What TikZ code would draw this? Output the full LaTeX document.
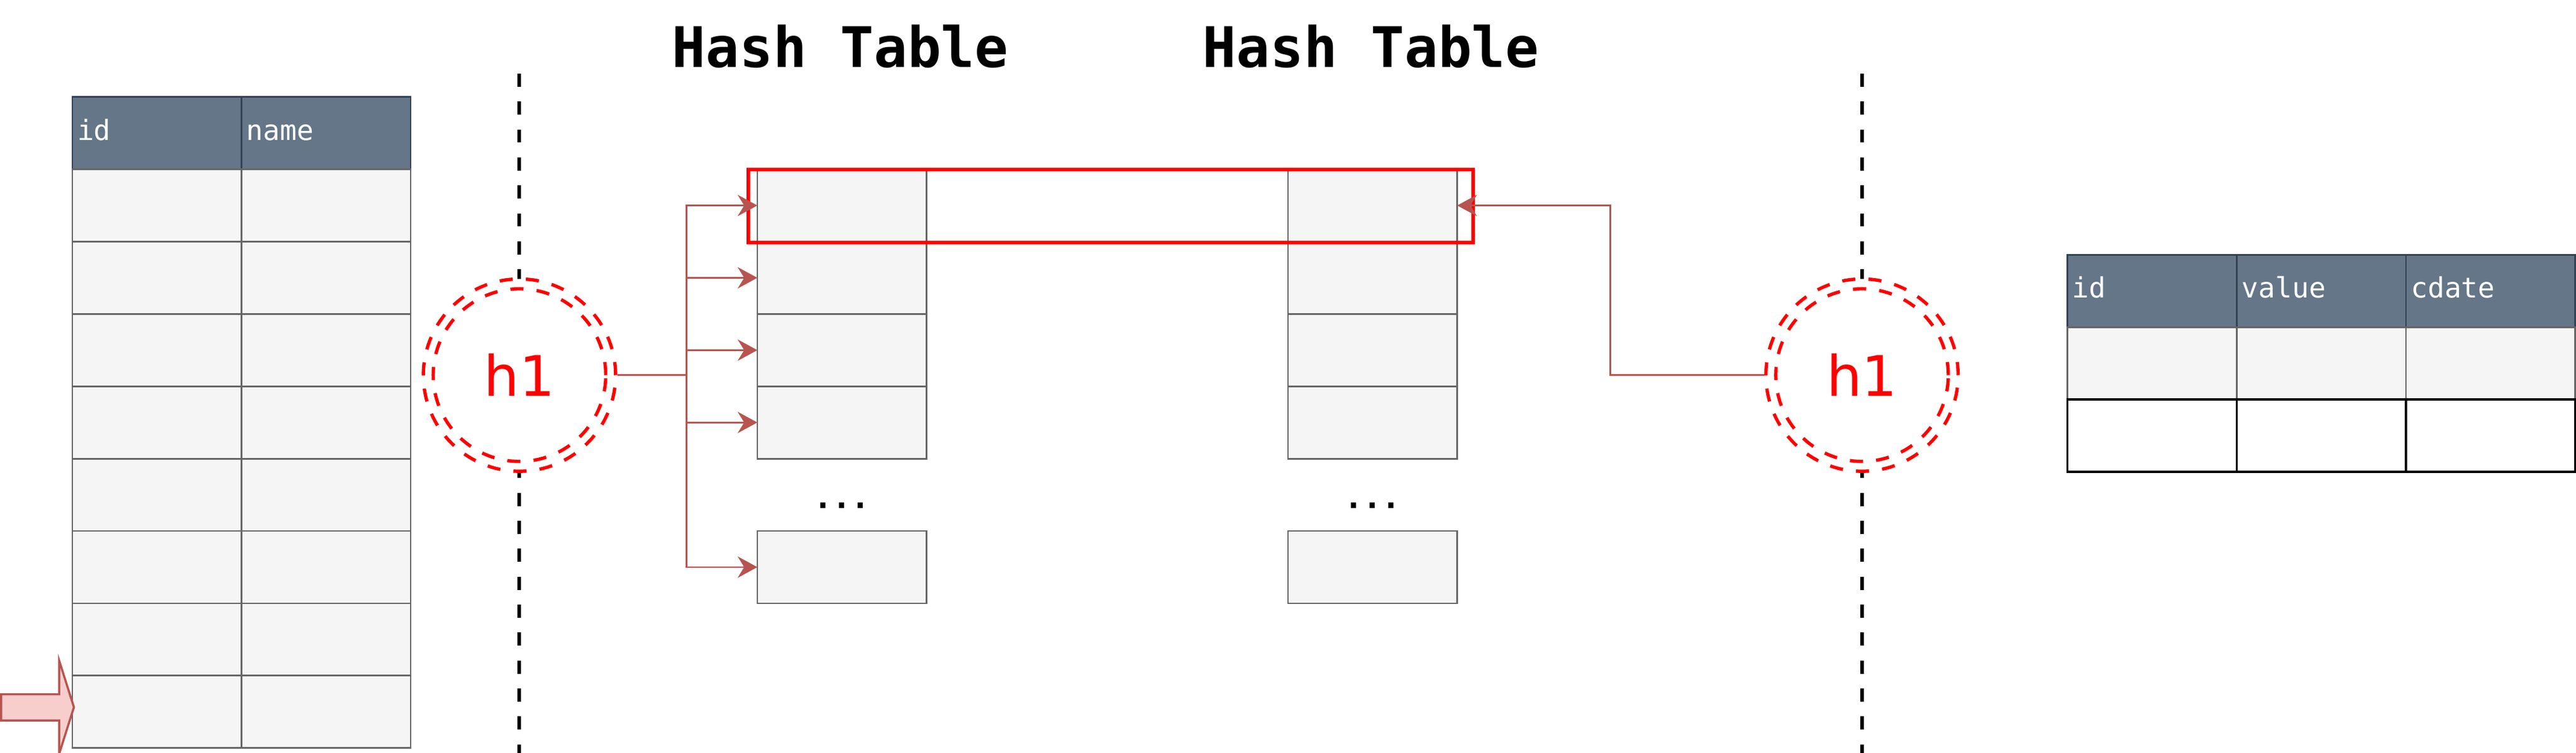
\documentclass[tikz,border=0pt]{standalone}
\usepackage{fontspec}
\setmainfont{DejaVu Sans}
\setsansfont{DejaVu Sans}
\setmonofont{DejaVu Sans Mono}
\usetikzlibrary{arrows.meta}
\definecolor{hdrfill}{HTML}{647687}
\definecolor{hdrline}{HTML}{314354}
\definecolor{cellfill}{HTML}{F5F5F5}
\definecolor{cellline}{HTML}{666666}
\definecolor{linkred}{HTML}{B85450}
\definecolor{pinkfill}{HTML}{F8CECC}
\begin{document}
\begin{tikzpicture}[x=1pt,y=-1pt,
	cell/.style={draw=cellline,fill=cellfill,line width=1pt,minimum width=103pt,minimum height=44pt,inner sep=0pt,outer sep=0pt},
	hdr/.style={cell,draw=hdrline,fill=hdrfill,text=white,font=\ttfamily\fontsize{17}{20}\selectfont,inner xsep=3pt,text width=97pt,align=left,text height=12pt,text depth=3.5pt},
	title/.style={font=\ttfamily\bfseries\fontsize{34}{40}\selectfont,anchor=base,inner sep=0pt},
	dotsnode/.style={font=\ttfamily\bfseries\fontsize{19}{22}\selectfont,inner sep=0pt},
	divider/.style={line width=2.2pt,dash pattern=on 8pt off 9pt},
	hnode/.style={circle,draw=red,fill=white,line width=2pt,dash pattern=on 8pt off 8pt,minimum size=117pt,inner sep=0pt,text=red,font=\sffamily\fontsize{34}{40}\selectfont},
	hring/.style={draw=red,line width=2pt,dash pattern=on 8pt off 8pt},
	hilite/.style={draw=red,line width=2.3pt},
	link/.style={draw=linkred,line width=1pt,-{Stealth[length=12pt,width=13pt,inset=4pt]}},
	trunk/.style={draw=linkred,line width=1pt},
	inarrow/.style={draw=linkred,fill=pinkfill,line width=1.3pt}]
	\useasboundingbox (0,0) rectangle (1568,458);
	\draw[divider] (316.2,44.8) -- (316.2,458);
	\draw[divider] (1133.4,44.8) -- (1133.4,458);
	% left table
	\foreach \c/\x/\t in {1/95.5/id,2/198.5/name}{
		\node[hdr] (L0\c) at (\x,81) {\t};
		\foreach \r in {1,...,8}
			\node[cell] (L\r\c) at (\x,{125+44*(\r-1)}) {};
	}
	\draw[inarrow] (0.7,422.3) -- (36,422.3) -- (36,401.8) -- (45,430.2) -- (36,458.6) -- (36,438.3) -- (0.7,438.3) -- cycle;
	% hash tables
	\node[title] (titleA) at (511.5,41) {Hash Table};
	\node[title] (titleB) at (834.5,41) {Hash Table};
	\foreach \r in {1,...,4}{
		\node[cell] (A\r) at (512.5,{125+44*(\r-1)}) {};
		\node[cell] (B\r) at (835.5,{125+44*(\r-1)}) {};
	}
	\node[dotsnode] (dotsA) at (512.5,307.4) {...};
	\node[dotsnode] (dotsB) at (835.5,307.4) {...};
	\node[cell] (A5) at (512.5,345) {};
	\node[cell] (B5) at (835.5,345) {};
	\draw[hilite] (455.6,103.2) rectangle (896.7,147.6);
	% hash functions
	\node[hnode] (hL) at (316.2,228.2) {h1};
	\draw[hring] (hL.center) circle[radius=52.5pt];
	\node[hnode] (hR) at (1133.4,228.2) {h1};
	\draw[hring] (hR.center) circle[radius=52.5pt];
	\coordinate (fork) at (418,228.2);
	\coordinate (turn) at (980.3,228.2);
	\draw[trunk] (hL.east) -- (fork);
	\foreach \r in {1,...,5}
		\draw[link] (fork) |- (A\r.west);
	\draw[link] (hR.west) -- (turn) |- (B1.east);
	% right table
	\foreach \c/\x/\t in {1/1310/id,2/1413/value,3/1516/cdate}{
		\node[hdr] (R0\c) at (\x,177) {\t};
		\node[cell] (R1\c) at (\x,221) {};
		\node[cell,draw=black,fill=white,line width=1.2pt] (R2\c) at (\x,265) {};
	}
\end{tikzpicture}
\end{document}
